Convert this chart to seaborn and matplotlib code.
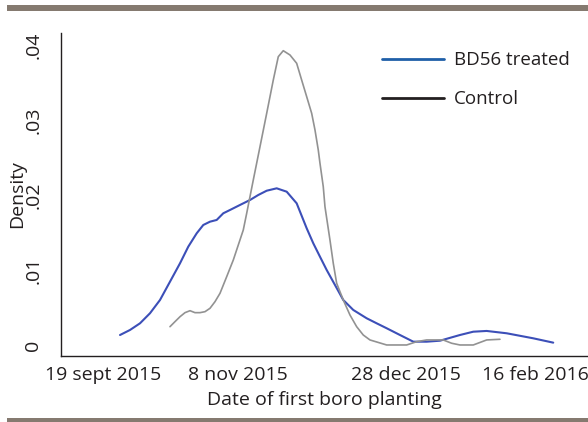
import matplotlib
matplotlib.use("Agg")
import matplotlib.pyplot as plt
import matplotlib.transforms as mtrans
from matplotlib.lines import Line2D
from matplotlib.patches import Rectangle
import seaborn as sns
import pandas as pd

# days after 19 sept 2015, density
treated_days = [14.78, 17.76, 20.75, 23.73, 26.72, 29.70, 32.69, 35.16, 37.67, 39.64, 41.64,
                43.64, 45.61, 47.61, 50.60, 53.58, 56.06, 58.57, 61.55, 64.54, 67.52, 70.51,
                72.48, 74.48, 76.48, 78.96, 81.43, 84.42, 88.42, 91.40, 94.39, 98.36, 102.33,
                106.33, 110.30, 116.27, 120.24, 124.24, 130.21, 138.15, 144.12]
treated_dens = [0.00133, 0.0020, 0.00289, 0.00423, 0.0060, 0.00844, 0.01089, 0.01311, 0.01489,
                0.0160, 0.01644, 0.01667, 0.01756, 0.0180, 0.01867, 0.01933, 0.0200, 0.02057,
                0.02089, 0.02044, 0.01889, 0.01556, 0.01356, 0.01177, 0.0100, 0.0080, 0.0060,
                0.00467, 0.00356, 0.00289, 0.00223, 0.00133, 0.00044, 0.00044, 0.00057,
                0.00133, 0.00177, 0.00187, 0.00156, 0.00089, 0.00031]

control_days = [29.70, 31.19, 32.69, 34.18, 35.67, 37.16, 38.66, 40.15, 41.64, 43.13, 44.63,
                46.63, 48.60, 50.09, 51.58, 52.60, 53.58, 54.57, 56.57, 58.57, 60.54, 62.03,
                63.52, 65.52, 67.52, 69.01, 70.51, 72.00, 72.99, 73.97, 74.48, 75.46, 75.97,
                77.46, 78.45, 79.46, 81.43, 83.43, 85.43, 87.40, 89.40, 94.39, 100.36, 103.34,
                106.33, 111.28, 113.79, 116.27, 120.24, 124.24, 128.21]
control_dens = [0.00244, 0.00311, 0.00377, 0.00431, 0.00457, 0.00431, 0.00431, 0.00444, 0.00489,
                0.00577, 0.00689, 0.00911, 0.01133, 0.01333, 0.01533, 0.01756, 0.01977, 0.0220,
                0.02644, 0.03089, 0.03533, 0.03844, 0.03924, 0.03867, 0.03756, 0.03533, 0.03311,
                0.03089, 0.02867, 0.0260, 0.02423, 0.02111, 0.01844, 0.0140, 0.01089, 0.00823,
                0.0060, 0.0040, 0.00244, 0.00133, 0.00067, 0.0, 0.0, 0.00044, 0.00067, 0.00067,
                0.00023, 0.0, 0.0, 0.00067, 0.00076]

tick_dates = ["2015-09-19", "2015-11-08", "2015-12-28", "2016-02-16"]
tick_labels = ["19 sept 2015", "8 nov 2015", "28 dec 2015", "16 feb 2016"]
y_ticks = [0, 0.01, 0.02, 0.03, 0.04]
y_labels = ["0", ".01", ".02", ".03", ".04"]

start = pd.Timestamp("2015-09-19")
df = pd.concat([
    pd.DataFrame({"date": start + pd.to_timedelta(treated_days, unit="D"),
                  "density": treated_dens, "group": "BD56 treated"}),
    pd.DataFrame({"date": start + pd.to_timedelta(control_days, unit="D"),
                  "density": control_dens, "group": "Control"}),
])

sns.set_style("white")
plt.rcParams["font.family"] = ["Open Sans", "DejaVu Sans"]
text_col = "#231f20"
fs = 14

fig = plt.figure(figsize=(5.88, 4.22), dpi=100)
ax = fig.add_axes([61 / 588, 1 - 356 / 422, 527 / 588, 323 / 422])

sns.lineplot(data=df, x="date", y="density", hue="group",
             palette={"BD56 treated": "#3c4fb8", "Control": "#929292"},
             linewidth=1.5, ax=ax, legend=False, sort=False)
for ln in ax.lines:
    ln.set_solid_joinstyle("round")
ax.lines[1].set_linewidth(1.2)

ax.set_xlim(start + pd.Timedelta(days=-2.84), start + pd.Timedelta(days=154.5))
ax.set_ylim(-0.00147, 0.0416)
ax.set_xticks(pd.to_datetime(tick_dates))
ax.set_xticklabels(tick_labels)
ax.set_yticks(y_ticks)
ax.set_yticklabels(y_labels, rotation=90, va="center")
ax.tick_params(axis="both", direction="out", length=4.5, width=1, colors=text_col,
               labelsize=fs)
ax.tick_params(axis="y", pad=9)
ax.tick_params(axis="x", pad=3)
for s in ["top", "right"]:
    ax.spines[s].set_visible(False)
for s in ["left", "bottom"]:
    ax.spines[s].set_color(text_col)
    ax.spines[s].set_linewidth(1)

# first tick has no mark; outer labels are pulled inwards
ax.xaxis.get_major_ticks()[0].tick1line.set_visible(False)
xl = ax.get_xticklabels()
xl[0].set_transform(xl[0].get_transform() + mtrans.ScaledTranslation(0.33, 0, fig.dpi_scale_trans))
xl[-1].set_transform(xl[-1].get_transform() + mtrans.ScaledTranslation(-0.37, 0, fig.dpi_scale_trans))

ax.set_xlabel("Date of first boro planting", fontsize=fs, color=text_col, labelpad=4.5)
ax.set_ylabel("Density", fontsize=fs, color=text_col, labelpad=-1)

handles = [Line2D([], [], color="#1f5fa8", lw=2),
           Line2D([], [], color="#231f20", lw=2)]
ax.legend(handles, ["BD56 treated", "Control"], loc="upper left",
          bbox_to_anchor=(0.578, 0.995), frameon=False, fontsize=13.5,
          handlelength=3.3, labelspacing=1.12, handletextpad=0.5, labelcolor=text_col)

# brown rules above and below the figure
fig.add_artist(Rectangle((7 / 588, 1 - 11 / 422), 1, 6 / 422, transform=fig.transFigure,
                         color="#857a70", lw=0))
fig.add_artist(Rectangle((7 / 588, 0), 1, 4 / 422, transform=fig.transFigure,
                         color="#857a70", lw=0))

fig.savefig("out.png", dpi=100)
